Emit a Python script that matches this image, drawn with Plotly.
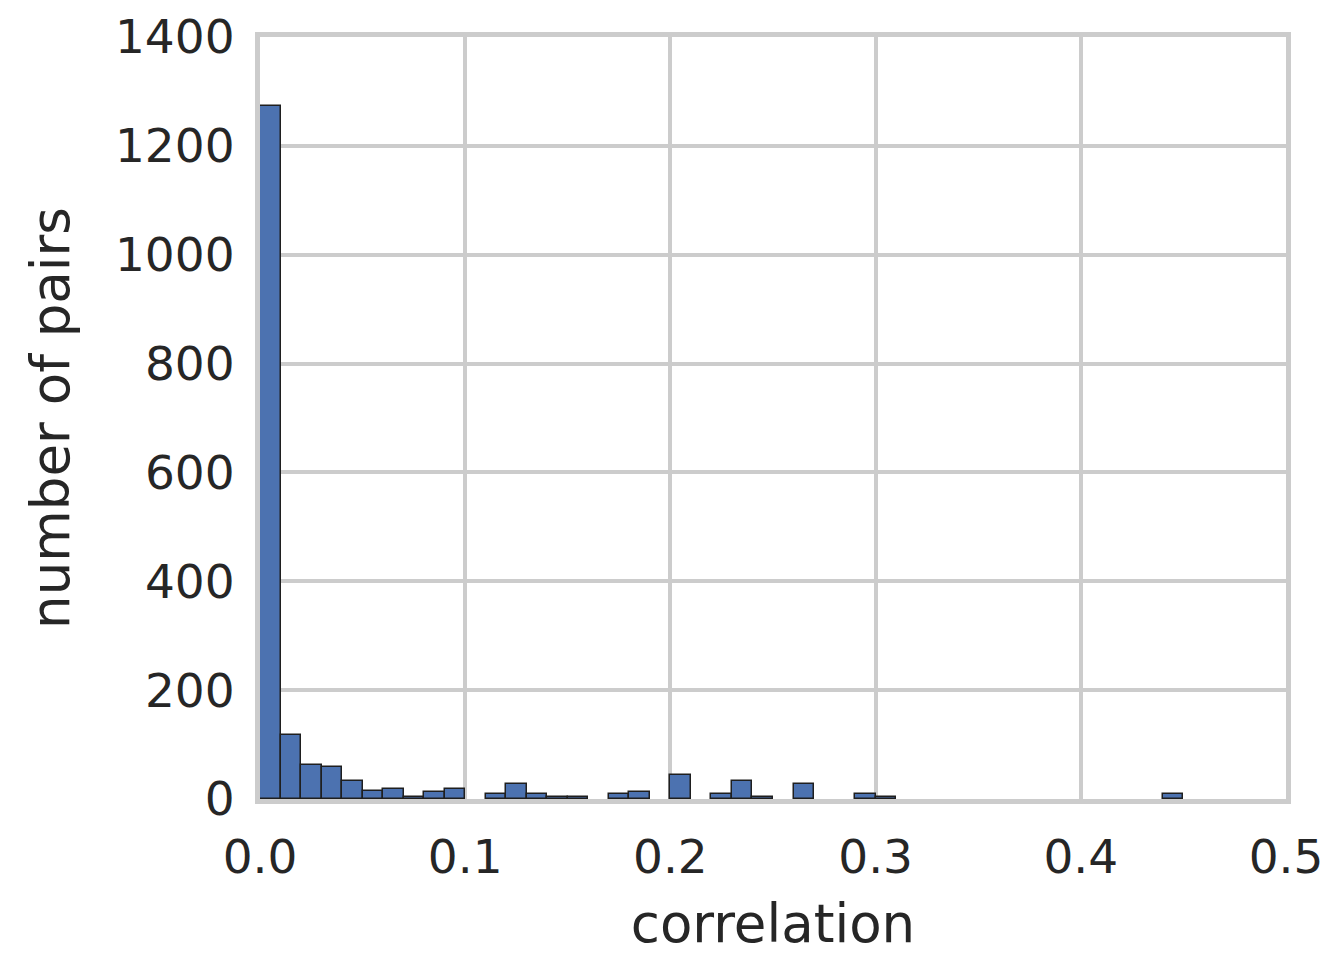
import plotly.graph_objects as go

bin_width = 0.01
bin_left = [round(i * bin_width, 2) for i in range(45)]
counts = [1273, 117, 62, 58, 33, 15, 19, 4, 13, 19,
          0, 10, 28, 10, 3, 3, 0, 9, 13, 0,
          45, 0, 9, 33, 4, 0, 27, 0, 0, 9,
          4, 0, 0, 0, 0, 0, 0, 0, 0, 0,
          0, 0, 0, 0, 9]
x_ticks = [0.0, 0.1, 0.2, 0.3, 0.4, 0.5]
x_ticklabels = ["0.0", "0.1", "0.2", "0.3", "0.4", "0.5"]
y_ticks = [0, 200, 400, 600, 800, 1000, 1200, 1400]

centers = [b + bin_width / 2 for b in bin_left]
edge_widths = [1.5 if c > 0 else 0 for c in counts]

fig = go.Figure(go.Bar(
    x=centers, y=counts, width=[bin_width] * len(centers),
    marker=dict(color="#4C72B0", line=dict(color="#1f1f1f", width=edge_widths)),
))

font = dict(family="DejaVu Sans", size=47, color="#262626")
title_font = dict(family="DejaVu Sans", size=53, color="#262626")
fig.update_layout(
    width=1334, height=954,
    margin=dict(l=260, r=48, t=37, b=155),
    paper_bgcolor="white", plot_bgcolor="white",
    font=font, showlegend=False, bargap=0,
    xaxis=dict(range=[0, 0.5], tickvals=x_ticks, ticktext=x_ticklabels,
               showgrid=True, gridcolor="#cccccc", gridwidth=4,
               showline=True, linecolor="#cccccc", linewidth=5, mirror=True,
               zeroline=False, ticks="", ticklabelstandoff=13, automargin=False,
               title=dict(text="correlation", font=title_font, standoff=28)),
    yaxis=dict(range=[0, 1400], tickvals=y_ticks,
               showgrid=True, gridcolor="#cccccc", gridwidth=4,
               showline=True, linecolor="#cccccc", linewidth=5, mirror=True,
               zeroline=False, ticks="", ticklabelstandoff=11, automargin=False,
               title=dict(text="number of pairs", font=title_font, standoff=30)),
)

fig.write_html("out.html")
